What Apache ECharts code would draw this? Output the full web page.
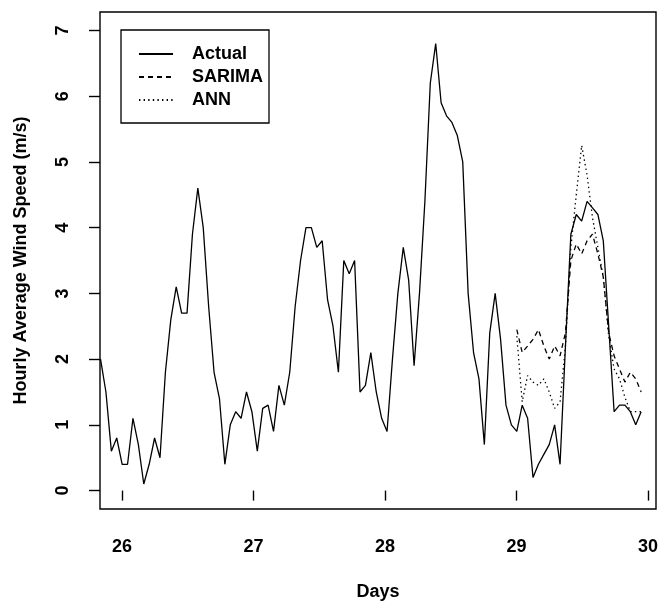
<!DOCTYPE html>
<html>
<head>
<meta charset="utf-8">
<script src="https://cdn.jsdelivr.net/npm/echarts@6/dist/echarts.min.js"></script>
<style>
html,body{margin:0;padding:0;background:#fff;}
#chart{width:669px;height:602px;}
</style>
</head>
<body>
<div id="chart"></div>
<script>
// Time axis (days): first reading and spacing
const startDay = 25.837;
const stepDay = 0.0411;
const forecastStartIndex = 77;

// Actual hourly wind speed (m/s)
const actual = [
  2.0, 1.5, 0.6, 0.8, 0.4, 0.4, 1.1, 0.7, 0.1, 0.4,
  0.8, 0.5, 1.8, 2.6, 3.1, 2.7, 2.7, 3.9, 4.6, 4.0,
  2.8, 1.8, 1.4, 0.4, 1.0, 1.2, 1.1, 1.5, 1.2, 0.6,
  1.25, 1.3, 0.9, 1.6, 1.3, 1.8, 2.8, 3.5, 4.0, 4.0,
  3.7, 3.8, 2.9, 2.5, 1.8, 3.5, 3.3, 3.5, 1.5, 1.6,
  2.1, 1.5, 1.1, 0.9, 2.0, 3.0, 3.7, 3.2, 1.9, 3.0,
  4.4, 6.2, 6.8, 5.9, 5.7, 5.6, 5.4, 5.0, 3.0, 2.1,
  1.7, 0.7, 2.4, 3.0, 2.3, 1.3, 1.0, 0.9, 1.3, 1.1,
  0.2, 0.4, 0.55, 0.7, 1.0, 0.4, 2.2, 3.9, 4.2, 4.1,
  4.4, 4.3, 4.2, 3.8, 2.5, 1.2, 1.3, 1.3, 1.2, 1.0,
  1.2
];

// SARIMA forecast (starts at index 77 = day 29)
const sarima = [
  2.45, 2.1, 2.2, 2.3, 2.45, 2.2, 2.0, 2.2, 2.05, 2.4,
  3.5, 3.75, 3.6, 3.8, 3.9, 3.6, 3.25, 2.4, 2.05, 1.85,
  1.65, 1.8, 1.7, 1.5
];

// ANN forecast
const ann = [
  2.35, 1.35, 1.75, 1.65, 1.6, 1.7, 1.5, 1.25, 1.35, 2.2,
  3.7, 4.5, 5.25, 4.8, 4.15, 3.7, 3.25, 2.35, 1.85, 1.7,
  1.42, 1.2, 1.2, 1.2
];

const xTicks = [26, 27, 28, 29, 30];
const yTicks = [0, 1, 2, 3, 4, 5, 6, 7];

const dayAt = i => startDay + i * stepDay;
const actualData = actual.map((v, i) => [dayAt(i), v]);
const sarimaData = sarima.map((v, i) => [dayAt(forecastStartIndex + i), v]);
const annData = ann.map((v, i) => [dayAt(forecastStartIndex + i), v]);

const FONT = '"Liberation Sans", Arial, Helvetica, sans-serif';
const chart = echarts.init(document.getElementById('chart'), null, {renderer: 'canvas'});

const lineBase = {type: 'line', showSymbol: false, symbol: 'none', animation: false, clip: true};

chart.setOption({
  backgroundColor: '#fff',
  animation: false,
  grid: {
    left: 100, top: 12, width: 556, height: 497,
    outerBoundsMode: 'none', containLabel: false,
    show: true, borderColor: '#000', borderWidth: 1.4, backgroundColor: 'transparent'
  },
  legend: {
    orient: 'vertical',
    left: 121, top: 30,
    padding: [15, 6, 14, 17],
    borderColor: '#000', borderWidth: 1.3,
    itemWidth: 34, itemHeight: 14, itemGap: 5,
    itemStyle: {opacity: 0, color: 'transparent', borderWidth: 0},
    textStyle: {fontFamily: FONT, fontSize: 18, fontWeight: 'bold', color: '#000', padding: [0, 0, 0, 14]},
    data: ['Actual', 'SARIMA', 'ANN']
  },
  xAxis: {
    type: 'value', min: 25.833, max: 30.06,
    name: 'Days', nameLocation: 'middle', nameGap: 74,
    nameTextStyle: {fontFamily: FONT, fontSize: 18, fontWeight: 'bold', color: '#000'},
    axisLine: {show: false},
    axisTick: {show: true, length: 10, inside: false, lineStyle: {color: '#000', width: 1.4}, customValues: xTicks},
    axisLabel: {fontFamily: FONT, fontSize: 18, fontWeight: 'bold', color: '#000', margin: 29, customValues: xTicks},
    splitLine: {show: false}
  },
  yAxis: {
    type: 'value', min: -0.28, max: 7.28,
    name: 'Hourly Average Wind Speed (m/s)', nameLocation: 'middle', nameGap: 70,
    nameTextStyle: {fontFamily: FONT, fontSize: 18, fontWeight: 'bold', color: '#000'},
    axisLine: {show: false},
    axisTick: {show: true, length: 11, inside: false, lineStyle: {color: '#000', width: 1.4}, customValues: yTicks},
    axisLabel: {fontFamily: FONT, fontSize: 18, fontWeight: 'bold', color: '#000', margin: 28, rotate: 90, customValues: yTicks},
    splitLine: {show: false}
  },
  series: [
    Object.assign({}, lineBase, {name: 'Actual', data: actualData, z: 3,
      lineStyle: {color: '#000', width: 1.3, type: 'solid'}, itemStyle: {color: '#000'}}),
    Object.assign({}, lineBase, {name: 'SARIMA', data: sarimaData, z: 2,
      lineStyle: {color: '#000', width: 1.3, type: [5, 4]}, itemStyle: {color: '#000'}}),
    Object.assign({}, lineBase, {name: 'ANN', data: annData, z: 2,
      lineStyle: {color: '#000', width: 1.3, type: [1.4, 3.2]}, itemStyle: {color: '#000'}})
  ]
});
</script>
</body>
</html>
